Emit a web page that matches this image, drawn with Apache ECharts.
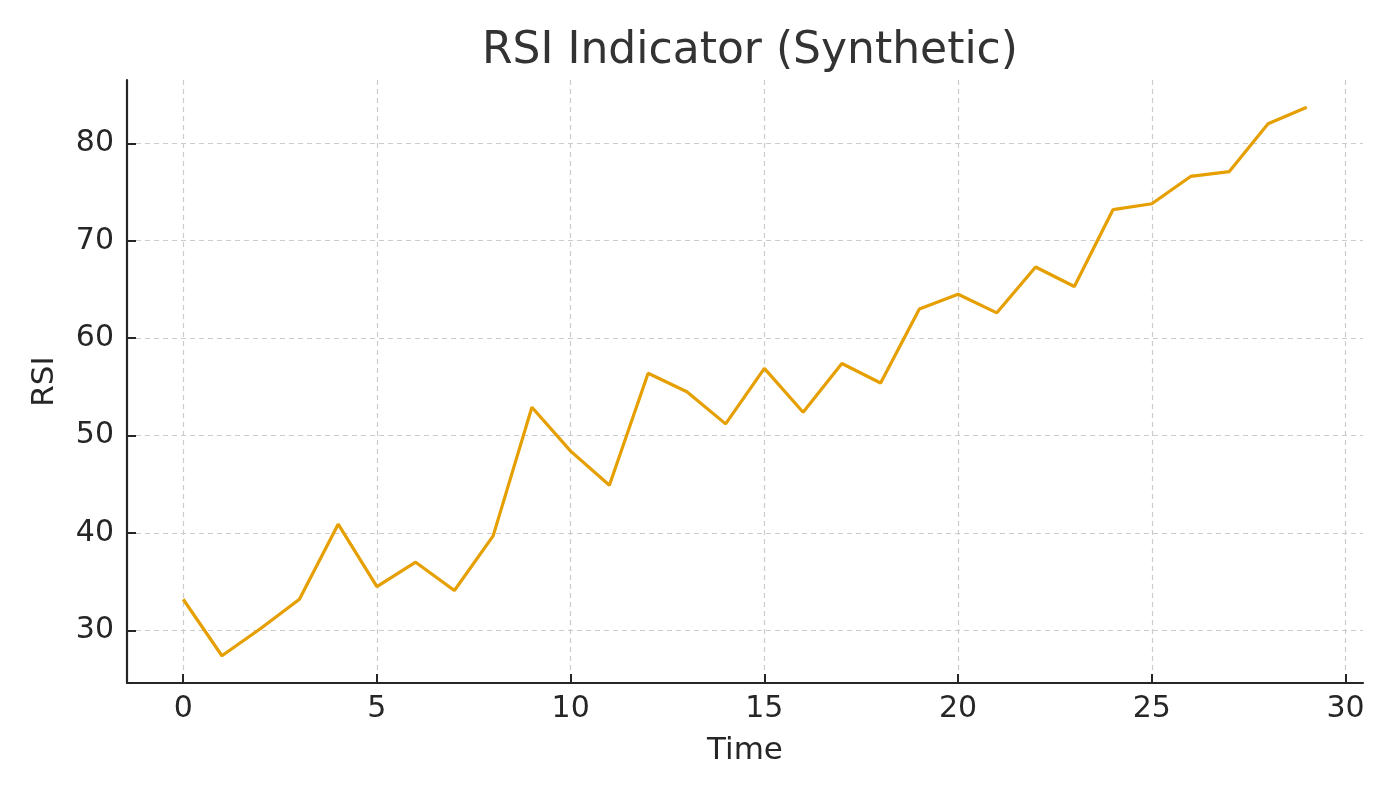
<!DOCTYPE html>
<html>
<head>
<meta charset="utf-8">
<script src="https://cdn.jsdelivr.net/npm/echarts@6/dist/echarts.min.js"></script>
<style>html,body{margin:0;padding:0;background:#fff}#c{width:1400px;height:800px}</style>
</head>
<body>
<div id="c"></div>
<script>
const timeSteps = [0,1,2,3,4,5,6,7,8,9,10,11,12,13,14,15,16,17,18,19,20,21,22,23,24,25,26,27,28,29];
const rsiValues = [33.2,27.4,30.2,33.2,40.9,34.5,37.0,34.1,39.7,52.9,48.4,44.9,56.4,54.5,51.2,56.9,52.4,57.4,55.4,63.0,64.5,62.6,67.3,65.3,73.2,73.8,76.6,77.1,82.0,83.7];
const xTicks = [0,5,10,15,20,25,30];
const yTicks = [30,40,50,60,70,80];

const chart = echarts.init(document.getElementById('c'), null, {renderer:'canvas'});
const font = 'DejaVu Sans';
chart.setOption({
  animation:false,
  backgroundColor:'#ffffff',
  title:{text:'RSI Indicator (Synthetic)', left:745, textAlign:'center', top:25,
    textStyle:{fontFamily:font, fontSize:44, fontWeight:'normal', color:'#333333'}},
  grid:{left:127, right:37, top:80, bottom:117},
  xAxis:{type:'value', min:-1.45, max:30.45,
    name:'Time', nameLocation:'middle', nameGap:52,
    nameTextStyle:{fontFamily:font, fontSize:31, color:'#262626'},
    axisLine:{show:true, onZero:false, lineStyle:{color:'#262626', width:2.2}},
    axisTick:{show:true, inside:true, length:9, customValues:xTicks, lineStyle:{color:'#262626', width:2}},
    axisLabel:{customValues:xTicks, fontFamily:font, fontSize:30, color:'#262626', margin:11},
    splitLine:{show:true, lineStyle:{color:'#cccccc', type:[5,4], width:1.2}}
  },
  yAxis:{type:'value', min:24.6, max:86.5,
    name:'RSI', nameLocation:'middle', nameGap:67, nameRotate:90,
    nameTextStyle:{fontFamily:font, fontSize:31, color:'#262626'},
    axisLine:{show:true, onZero:false, lineStyle:{color:'#262626', width:2.2}},
    axisTick:{show:true, inside:true, length:9, customValues:yTicks, lineStyle:{color:'#262626', width:2}},
    axisLabel:{customValues:yTicks, fontFamily:font, fontSize:30, color:'#262626', margin:13},
    splitLine:{show:true, lineStyle:{color:'#cccccc', type:[5,4], width:1.2}}
  },
  series:[{type:'line', data:timeSteps.map((t,i)=>[t,rsiValues[i]]),
    showSymbol:false, lineStyle:{color:'#E69F00', width:3.2}, itemStyle:{color:'#E69F00'}}]
});
</script>
</body>
</html>
